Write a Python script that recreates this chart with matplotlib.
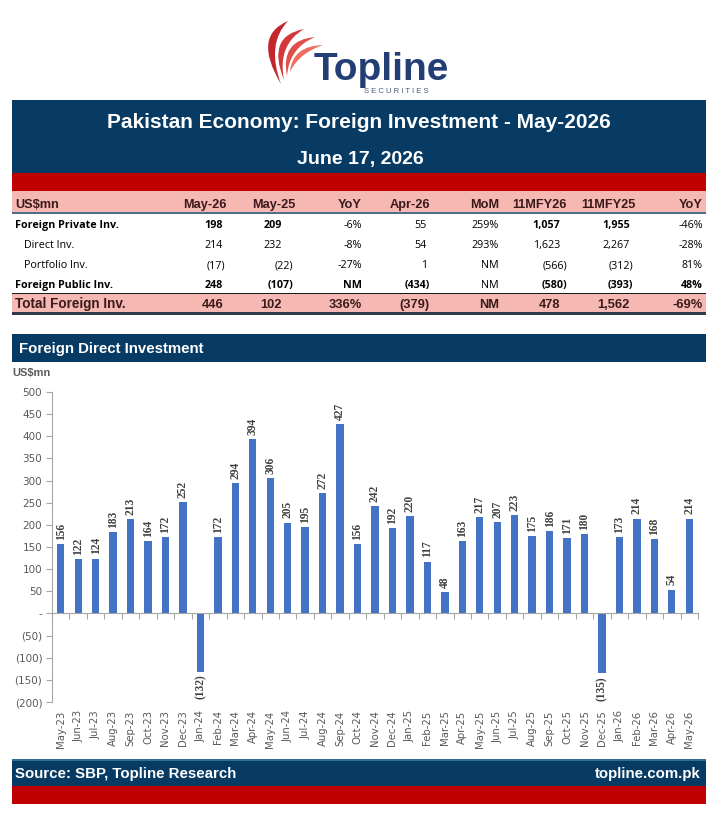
import matplotlib
matplotlib.use("Agg")
import matplotlib.pyplot as plt
from matplotlib.patches import Rectangle, PathPatch
from matplotlib.path import Path
import numpy as np

# ---------------- data ----------------
months = ["May-23", "Jun-23", "Jul-23", "Aug-23", "Sep-23", "Oct-23", "Nov-23", "Dec-23",
          "Jan-24", "Feb-24", "Mar-24", "Apr-24", "May-24", "Jun-24", "Jul-24", "Aug-24",
          "Sep-24", "Oct-24", "Nov-24", "Dec-24", "Jan-25", "Feb-25", "Mar-25", "Apr-25",
          "May-25", "Jun-25", "Jul-25", "Aug-25", "Sep-25", "Oct-25", "Nov-25", "Dec-25",
          "Jan-26", "Feb-26", "Mar-26", "Apr-26", "May-26"]
fdi = [156, 122, 124, 183, 213, 164, 172, 252,
       -132, 172, 294, 394, 306, 205, 195, 272, 427, 156, 242, 192,
       220, 117, 48, 163, 217, 207, 223, 175, 186, 171, 180, -135,
       173, 214, 168, 54, 214]
y_ticks = [-200, -150, -100, -50, 0, 50, 100, 150, 200, 250, 300, 350, 400, 450, 500]
y_tick_labels = ["(200)", "(150)", "(100)", "(50)", "-", "50", "100", "150", "200",
                 "250", "300", "350", "400", "450", "500"]

table_cols = ["May-26", "May-25", "YoY", "Apr-26", "MoM", "11MFY26", "11MFY25", "YoY"]
row_labels = ["Foreign Private Inv.", "Direct Inv.", "Portfolio Inv.", "Foreign Public Inv."]
row_private = ["198", "209", "-6%", "55", "259%", "1,057", "1,955", "-46%"]
row_direct = ["214", "232", "-8%", "54", "293%", "1,623", "2,267", "-28%"]
row_portfolio = ["(17)", "(22)", "-27%", "1", "NM", "(566)", "(312)", "81%"]
row_public = ["248", "(107)", "NM", "(434)", "NM", "(580)", "(393)", "48%"]
total_label = "Total Foreign Inv."
row_total = ["446", "102", "336%", "(379)", "NM", "478", "1,562", "-69%"]

title = "Pakistan Economy: Foreign Investment - May-2026"
date_text = "June 17, 2026"
chart_title = "Foreign Direct Investment"
unit_label = "US$mn"
source_text = "Source: SBP, Topline Research"
site_text = "topline.com.pk"

# ---------------- style ----------------
W, H = 718, 818
NAVY = "#083B64"
RED = "#C00000"
PINK = "#F5B8B3"
BAR = "#4472C4"
DARK = "#3A1A1A"
GRAY = "#595959"
SANS = ["Liberation Sans", "DejaVu Sans"]
BODY = ["Open Sans", "DejaVu Sans"]

fig = plt.figure(figsize=(W / 100, H / 100), dpi=100)
fig.patch.set_facecolor("white")
bg = fig.add_axes([0, 0, 1, 1])
bg.set_xlim(0, W)
bg.set_ylim(H, 0)
bg.axis("off")
bg.set_zorder(0)
renderer = fig.canvas.get_renderer()


def rect(x0, y0, x1, y1, color, **kw):
    bg.add_patch(Rectangle((x0, y0), x1 - x0, y1 - y0, facecolor=color,
                           edgecolor="none", **kw))


def fit_size(s, target_px, family, weight):
    t = fig.text(0, 0, s, family=family, weight=weight, size=10)
    w = t.get_window_extent(renderer).width
    t.remove()
    return 10 * target_px / w


# ---------------- logo ----------------
swooshes = [((281, 84), (252, 36), (288, 21), (266, 44), "#C1272D"),
            ((284, 80), (266, 36), (304, 29), (277, 45), "#D3393A"),
            ((287, 76), (280, 40), (315, 37), (289, 48), "#E0504A"),
            ((290, 72), (292, 46), (323, 45), (299, 53), "#EC6E5E")]
for b, co, t, ci, col in swooshes:
    p = Path([b, co, t, ci, b, b],
             [Path.MOVETO, Path.CURVE3, Path.CURVE3, Path.CURVE3, Path.CURVE3, Path.CLOSEPOLY])
    bg.add_patch(PathPatch(p, facecolor=col, edgecolor="none"))
bg.text(381, 80, "Topline", ha="center", va="baseline", family=SANS,
        weight="bold", size=28, color="#223E74")
bg.text(364, 93, "S E C U R I T I E S", ha="left", va="baseline", family=SANS,
        size=5.5, color="#4A5A7A")

# ---------------- title block ----------------
rect(12, 100, 706, 173, NAVY)
bg.text(359, 128, title, ha="center", va="baseline", family=SANS, weight="bold",
        size=15, color="white")
bg.text(360, 164, date_text, ha="center", va="baseline", family=SANS, weight="bold",
        size=14, color="white")
rect(12, 173, 706, 191, RED)

# ---------------- table ----------------
rect(12, 191, 706, 212, PINK)
rect(12, 212, 706, 214, "#4F6E8C")
col_right = [227, 295, 362, 430, 499, 567, 635, 703]
val_right = [225, 293, 362, 430, 499, 567, 633, 703]
pos_pad = [2, 11, 0, 3, 0, 7, 3, 0]
head_size = fit_size("May-26", 43, SANS, "bold")
bg.text(15, 208, unit_label, ha="left", va="baseline", family=SANS, weight="bold",
        size=head_size, color=DARK)
for c, xr in zip(table_cols, col_right):
    bg.text(xr, 208, c, ha="right", va="baseline", family=SANS, weight="bold",
            size=head_size, color=DARK)

rows = [row_private, row_direct, row_portfolio, row_public]
row_y = [228, 248, 268, 288]
row_indent = [15, 24, 24, 15]
row_bold_label = [True, False, False, True]
row_bold = [[1, 1, 0, 0, 0, 1, 1, 0], [0] * 8, [0] * 8, [1, 1, 1, 1, 0, 1, 1, 1]]
body_size = fit_size(row_labels[0], 104, BODY, "bold")


def cell_x(j, s):
    if s.endswith(")") or s.endswith("%") or s == "NM":
        return val_right[j]
    return val_right[j] - pos_pad[j]


for lab, vals, y, ind, bl, bflags in zip(row_labels, rows, row_y, row_indent,
                                         row_bold_label, row_bold):
    bg.text(ind, y, lab, ha="left", va="baseline", family=BODY,
            weight="bold" if bl else "normal", size=body_size, color="black")
    for j, s in enumerate(vals):
        bg.text(cell_x(j, s), y, s, ha="right", va="baseline", family=BODY,
                weight="bold" if bflags[j] else "normal", size=body_size, color="black")

rect(12, 292.5, 706, 294, "#1A1A1A")
rect(12, 294, 706, 312, PINK)
rect(12, 312, 706, 315, "#2F3B4C")
total_size = fit_size(total_label, 111, SANS, "bold")
bg.text(15, 308, total_label, ha="left", va="baseline", family=SANS, weight="bold",
        size=total_size, color=DARK)
for j, s in enumerate(row_total):
    bg.text(cell_x(j, s), 308, s, ha="right", va="baseline", family=SANS, weight="bold",
            size=total_size * 0.95, color=DARK)

# ---------------- chart block ----------------
rect(12, 334, 706, 362, NAVY)
bg.text(19, 352.5, chart_title, ha="left", va="baseline", family=SANS,
        weight="bold", size=10.8, color="white")
bg.text(12, 373, unit_label, ha="left", va="center", family=SANS,
        weight="bold", size=8, color=GRAY)

ax = fig.add_axes([52 / W, 1 - 702 / H, 646 / W, 310 / H])
ax.set_zorder(2)
ax.patch.set_alpha(0)
x = np.arange(len(months))
ax.bar(x, fdi, width=0.42, color=BAR, zorder=2)
ax.set_xlim(-0.5, len(months) - 0.5)
ax.set_ylim(-200, 500)
for s in ["top", "right"]:
    ax.spines[s].set_visible(False)
ax.spines["left"].set_color("#A6A6A6")
ax.spines["bottom"].set_position(("data", 0))
ax.spines["bottom"].set_color("#A6A6A6")
ax.set_xticks(np.arange(-0.5, len(months), 1.0))
ax.tick_params(axis="x", length=4, direction="out", color="#A6A6A6", labelbottom=False)
ax.set_yticks(y_ticks, labels=y_tick_labels)
ax.tick_params(axis="y", length=4, color="#A6A6A6", labelcolor=GRAY, labelsize=7.5, pad=3)
for lab in ax.get_yticklabels():
    lab.set_family("DejaVu Sans")

sec = ax.secondary_xaxis("bottom")
sec.set_xticks(x, labels=months)
sec.tick_params(length=0, pad=6, labelsize=7.3, labelcolor=GRAY, rotation=90)
sec.spines["bottom"].set_visible(False)
for lab in sec.get_xticklabels():
    lab.set_family("DejaVu Sans")

for i, v in enumerate(fdi):
    txt = f"({-v})" if v < 0 else f"{v}"
    ax.annotate(txt, xy=(i, v), xytext=(0, 3 if v >= 0 else -2), textcoords="offset points",
                rotation=90, ha="center", va="bottom" if v >= 0 else "top",
                family=["Liberation Serif"], weight="bold", size=8.3, color="#404040")

# ---------------- footer ----------------
rect(12, 759, 706, 786, NAVY)
rect(12, 759, 706, 761, "#2F6F8F")
bg.text(15, 778, source_text, ha="left", va="baseline", family=SANS, weight="bold",
        size=10.8, color="white")
bg.text(701, 778, site_text, ha="right", va="baseline", family=SANS, weight="bold",
        size=10.8, color="white")
rect(12, 786, 706, 804, RED)

fig.savefig("out.png", dpi=100, facecolor="white")
